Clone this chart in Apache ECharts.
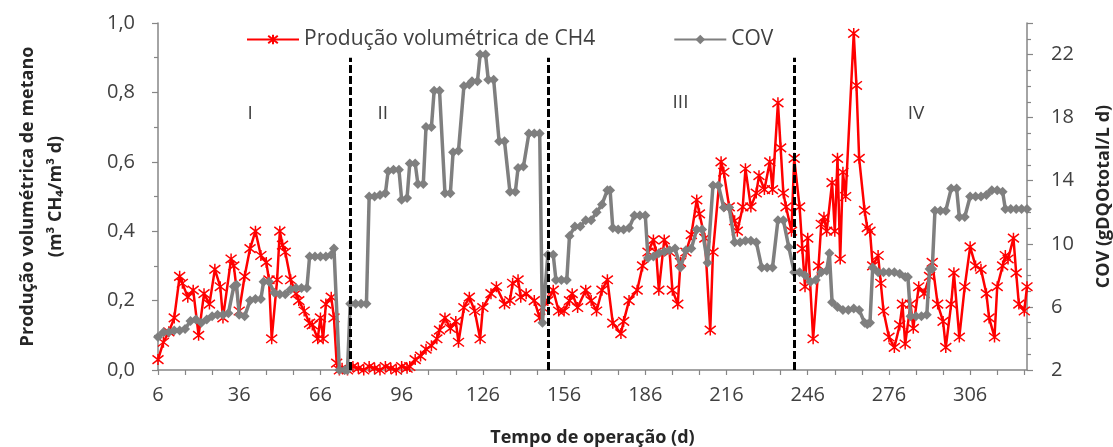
<!DOCTYPE html>
<html>
<head>
<meta charset="utf-8">
<script src="https://cdn.jsdelivr.net/npm/echarts@6/dist/echarts.min.js"></script>
<style>
  html, body { margin: 0; padding: 0; background: #ffffff; }
  #chart { width: 1113px; height: 447px; }
</style>
</head>
<body>
<div id="chart"></div>
<script>
// Operation days shown on the category axis (day 6 to day 327)
const firstDay = 6;
const lastDay = 327;
const dayCategories = [];
for (let d = firstDay; d <= lastDay; d++) dayCategories.push(String(d));

// Volumetric methane production (m3 CH4 / m3 d)
const ch4Days = [6, 8, 10, 12, 14, 15, 17, 19, 21, 23, 25, 27, 29, 30, 33, 34, 36, 38, 40, 42,
  44, 46, 47, 48, 50, 51, 52, 53, 55, 57, 58, 60, 62, 63, 65, 66, 67, 68, 70, 71,
  72, 73, 74, 76, 78, 80, 82, 84, 86, 88, 90, 92, 94, 96, 98, 99, 101, 103, 105, 107,
  109, 110, 112, 114, 116, 117, 119, 121, 123, 125, 126, 129, 131, 134, 136, 137, 139, 140, 142, 145,
  147, 148, 150, 152, 154, 156, 158, 159, 161, 164, 166, 168, 170, 172, 174, 177, 178, 180, 183, 185,
  187, 189, 190, 191, 193, 195, 196, 198, 199, 201, 203, 205, 206, 208, 210, 211, 214, 215, 217, 219,
  220, 222, 223, 225, 227, 228, 230, 232, 233, 235, 236, 237, 238, 240, 241, 243, 244, 245, 246, 248,
  250, 251, 252, 253, 255, 256, 257, 258, 259, 260, 263, 264, 265, 267, 268, 269, 270, 272, 273, 274,
  276, 278, 280, 281, 282, 284, 285, 287, 289, 291, 292, 294, 296, 297, 299, 300, 302, 304, 306, 308,
  310, 312, 313, 315, 316, 318, 319, 320, 322, 323, 324, 326, 327];
const ch4Values = [0.03, 0.08, 0.11, 0.15, 0.27, 0.25, 0.21, 0.23, 0.10, 0.22, 0.19, 0.29, 0.24, 0.15, 0.32, 0.30, 0.17, 0.27, 0.35, 0.40,
  0.33, 0.31, 0.26, 0.09, 0.26, 0.40, 0.36, 0.34, 0.26, 0.22, 0.20, 0.17, 0.135, 0.13, 0.09, 0.15, 0.09, 0.19, 0.21, 0.15,
  0.02, 0.0, 0.005, 0.0, 0.01, 0.005, 0.0, 0.01, 0.005, 0.0, 0.01, 0.005, 0.0, 0.01, 0.005, 0.01, 0.03, 0.04, 0.06, 0.07,
  0.09, 0.115, 0.15, 0.12, 0.14, 0.08, 0.18, 0.21, 0.17, 0.09, 0.18, 0.22, 0.24, 0.19, 0.20, 0.25, 0.26, 0.21, 0.22, 0.20,
  0.15, 0.18, 0.20, 0.23, 0.17, 0.17, 0.20, 0.22, 0.18, 0.23, 0.20, 0.17, 0.23, 0.26, 0.135, 0.105, 0.14, 0.20, 0.23, 0.30,
  0.34, 0.375, 0.34, 0.23, 0.375, 0.34, 0.23, 0.19, 0.31, 0.34, 0.39, 0.49, 0.45, 0.38, 0.115, 0.34, 0.60, 0.57, 0.47, 0.43,
  0.40, 0.47, 0.58, 0.47, 0.51, 0.56, 0.52, 0.60, 0.52, 0.77, 0.64, 0.51, 0.47, 0.40, 0.61, 0.47, 0.35, 0.24, 0.38, 0.09,
  0.30, 0.42, 0.44, 0.40, 0.54, 0.40, 0.61, 0.32, 0.57, 0.50, 0.97, 0.82, 0.61, 0.46, 0.41, 0.40, 0.30, 0.33, 0.25, 0.17,
  0.095, 0.065, 0.13, 0.19, 0.075, 0.19, 0.12, 0.24, 0.22, 0.27, 0.31, 0.19, 0.14, 0.065, 0.19, 0.28, 0.095, 0.24, 0.355, 0.30,
  0.29, 0.22, 0.15, 0.095, 0.24, 0.30, 0.33, 0.32, 0.38, 0.28, 0.19, 0.17, 0.24];

// Organic loading rate, COV (gDQOtotal / L d)
const covDays = [6, 8, 10, 12, 14, 16, 18, 20, 22, 24, 26, 28, 30, 32, 34, 35, 36, 38, 40, 42,
  44, 45, 47, 49, 51, 53, 55, 57, 59, 61, 62, 64, 66, 68, 70, 71, 73, 75, 76, 77,
  79, 81, 83, 84, 86, 88, 90, 91, 93, 95, 96, 98, 99, 101, 102, 104, 105, 107, 108, 110,
  112, 114, 115, 117, 119, 121, 122, 124, 125, 127, 128, 130, 132, 134, 136, 138, 139, 141, 143, 145,
  147, 148, 150, 152, 153, 155, 157, 158, 160, 162, 164, 166, 168, 170, 172, 173, 174, 176, 178, 180,
  182, 184, 186, 187, 189, 191, 193, 195, 197, 199, 201, 203, 205, 207, 209, 211, 213, 215, 217, 219,
  221, 223, 225, 227, 229, 231, 233, 235, 237, 239, 241, 243, 245, 247, 249, 251, 253, 254, 255, 257,
  259, 261, 263, 265, 267, 268, 269, 270, 272, 274, 276, 278, 280, 282, 283, 284, 286, 288, 290, 291,
  292, 293, 295, 297, 299, 301, 302, 304, 306, 308, 310, 312, 314, 316, 318, 319, 321, 323, 325, 327];
const covValues = [4.1, 4.4, 4.4, 4.5, 4.5, 4.6, 5.1, 5.2, 5.0, 5.2, 5.4, 5.5, 5.5, 5.6, 7.3, 7.4, 5.5, 5.4, 6.4, 6.5,
  6.5, 7.6, 7.6, 6.9, 6.8, 6.8, 7.1, 7.2, 7.2, 7.2, 9.2, 9.2, 9.2, 9.2, 9.3, 9.7, 2.0, 2.0, 2.0, 6.2,
  6.2, 6.2, 6.2, 13.0, 13.0, 13.1, 13.2, 14.6, 14.7, 14.7, 12.8, 12.9, 15.1, 15.1, 13.8, 13.8, 17.4, 17.4, 19.7, 19.7,
  13.2, 13.2, 15.8, 15.9, 20.0, 20.1, 20.3, 20.3, 22.0, 22.0, 20.4, 20.4, 16.5, 16.5, 13.3, 13.3, 14.8, 14.9, 17.0, 17.0,
  17.0, 5.0, 9.3, 9.3, 7.7, 7.7, 7.7, 10.5, 11.1, 11.1, 11.5, 11.5, 12.0, 12.5, 13.4, 13.4, 11.0, 10.9, 10.9, 11.0,
  11.8, 11.8, 11.8, 9.1, 9.2, 9.4, 9.5, 9.6, 9.7, 8.5, 9.6, 9.7, 10.9, 10.9, 8.8, 13.7, 13.7, 12.3, 12.3, 10.1,
  10.1, 10.2, 10.2, 10.1, 8.5, 8.5, 8.5, 11.5, 11.5, 9.8, 8.2, 8.2, 8.0, 7.6, 7.7, 8.2, 8.3, 9.4, 6.3, 6.0,
  5.8, 5.8, 5.9, 5.8, 5.0, 4.9, 5.0, 8.5, 8.2, 8.2, 8.2, 8.2, 8.1, 7.9, 7.9, 5.4, 5.4, 5.4, 5.5, 8.4,
  8.4, 12.1, 12.1, 12.1, 13.5, 13.5, 11.7, 11.7, 13.0, 13.0, 13.0, 13.1, 13.4, 13.4, 13.3, 12.2, 12.2, 12.2, 12.2, 12.2];

// Days where the operating phase changes, and the phase names
const phaseBoundaryDays = [77, 150, 241];
const phaseNames = ['I', 'II', 'III', 'IV'];
const phaseNameDays = [40, 89, 199, 286];
const phaseNameLevels = [0.74, 0.74, 0.77, 0.74];

const FONT = '"Open Sans", Lato, sans-serif';
const AXIS_GREY = '#868686';
const TEXT = '#404040';
const TITLE = '#262626';

// Asterisk-like marker: an "x" crossed by a vertical stroke
const starSymbol = 'path://M0,0L10,10M10,0L0,10M5,-1.5L5,11.5';

const chart = echarts.init(document.getElementById('chart'), null, { renderer: 'canvas' });

chart.setOption({
  animation: false,
  textStyle: { fontFamily: FONT },
  grid: { left: 158, right: 86, top: 23, bottom: 77, containLabel: false, outerBoundsMode: 'none' },
  legend: {
    top: 24,
    left: 241,
    itemGap: 78,
    itemWidth: 52,
    itemHeight: 12,
    textStyle: { fontFamily: FONT, fontSize: 21, color: TEXT },
    data: ['Produção volumétrica de CH4', 'COV']
  },
  xAxis: {
    type: 'category',
    data: dayCategories,
    boundaryGap: false,
    axisLine: { lineStyle: { color: AXIS_GREY, width: 1.5 } },
    axisTick: { interval: 9, length: 5, lineStyle: { color: AXIS_GREY, width: 1.2 } },
    axisLabel: { interval: 29, margin: 15, fontSize: 20, color: TEXT, fontFamily: FONT },
    name: 'Tempo de operação (d)',
    nameLocation: 'middle',
    nameGap: 59,
    nameTextStyle: { fontFamily: FONT, fontWeight: 'bold', fontSize: 18, color: TITLE }
  },
  yAxis: [
    {
      type: 'value',
      min: 0,
      max: 1,
      interval: 0.2,
      position: 'left',
      axisLine: { show: true, lineStyle: { color: AXIS_GREY, width: 1.5 } },
      axisTick: { show: true, length: 6, lineStyle: { color: AXIS_GREY, width: 1.2 } },
      minorTick: { show: true, splitNumber: 2, length: 4, lineStyle: { color: AXIS_GREY, width: 1.2 } },
      splitLine: { show: false },
      axisLabel: {
        margin: 23, fontSize: 20, color: TEXT, fontFamily: FONT,
        formatter: v => v.toFixed(1).replace('.', ',')
      },
      name: 'Produção volumétrica de metano\n(m³ CH₄/m³ d)',
      nameLocation: 'middle',
      nameRotate: 90,
      nameGap: 88,
      nameTextStyle: { fontFamily: FONT, fontWeight: 'bold', fontSize: 18, color: TITLE, lineHeight: 28 }
    },
    {
      type: 'value',
      min: 2,
      max: 24,
      interval: 4,
      position: 'right',
      axisLine: { show: true, lineStyle: { color: AXIS_GREY, width: 1.5 } },
      axisTick: { show: true, length: 6, lineStyle: { color: AXIS_GREY, width: 1.2 } },
      minorTick: { show: true, splitNumber: 4, length: 4, lineStyle: { color: AXIS_GREY, width: 1.2 } },
      splitLine: { show: false },
      axisLabel: { margin: 24, fontSize: 20, color: TEXT, fontFamily: FONT, showMaxLabel: false },
      name: 'COV (gDQOtotal/L d)',
      nameLocation: 'middle',
      nameRotate: 90,
      nameGap: 68,
      nameTextStyle: { fontFamily: FONT, fontWeight: 'bold', fontSize: 18, color: TITLE }
    }
  ],
  series: [
    {
      name: 'Produção volumétrica de CH4',
      type: 'line',
      yAxisIndex: 0,
      data: ch4Days.map((d, i) => [String(d), ch4Values[i]]),
      showAllSymbol: true,
      symbol: starSymbol,
      symbolSize: 11,
      lineStyle: { color: '#ff0000', width: 2.5 },
      itemStyle: { color: '#ff0000', borderColor: '#ff0000', borderWidth: 1.5 },
      z: 2,
      markLine: {
        silent: true,
        symbol: ['none', 'none'],
        label: { show: false },
        lineStyle: { color: '#000000', width: 3, type: [8, 3] },
        data: phaseBoundaryDays.map(d => [{ coord: [String(d), 0] }, { coord: [String(d), 0.9] }])
      },
      markPoint: {
        silent: true,
        symbol: 'circle',
        symbolSize: 1,
        itemStyle: { color: 'rgba(0,0,0,0)' },
        label: { show: true, position: 'inside', formatter: '{b}', color: TEXT, fontSize: 19, fontFamily: FONT },
        data: phaseNames.map((n, i) => ({ name: n, coord: [String(phaseNameDays[i]), phaseNameLevels[i]] }))
      }
    },
    {
      name: 'COV',
      type: 'line',
      yAxisIndex: 1,
      data: covDays.map((d, i) => [String(d), covValues[i]]),
      showAllSymbol: true,
      symbol: 'diamond',
      symbolSize: 10,
      lineStyle: { color: '#7f7f7f', width: 3.5 },
      itemStyle: { color: '#7f7f7f', borderWidth: 0 },
      z: 3
    }
  ]
});
</script>
</body>
</html>
